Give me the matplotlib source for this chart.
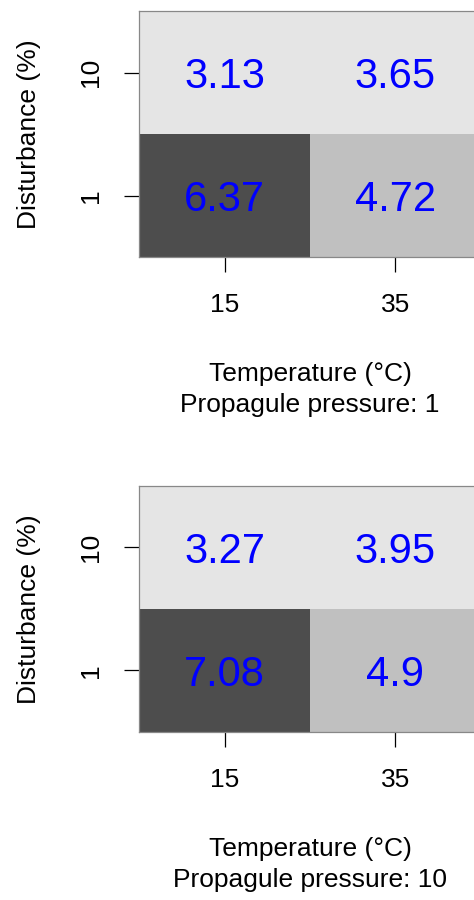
import numpy as np
import matplotlib
matplotlib.use("Agg")
import matplotlib.pyplot as plt
from matplotlib.colors import ListedColormap, BoundaryNorm

plt.rcParams['font.family'] = ['Liberation Sans', 'DejaVu Sans']

temperatures = ["15", "35"]
disturbances = ["1", "10"]
pressures = ["1", "10"]
# rows: disturbance 1, 10 ; columns: temperature 15, 35
values_pp1 = [[6.37, 4.72],
              [3.13, 3.65]]
values_pp10 = [[7.08, 4.9],
               [3.27, 3.95]]

cmap = ListedColormap(["#e5e5e5", "#c0c0c0", "#4d4d4d"])
norm = BoundaryNorm([0, 4, 6, 10], cmap.N)

fig = plt.figure(figsize=(4.74, 9), dpi=100)

panels = [(values_pp1, pressures[0], 0.7144), (values_pp10, pressures[1], 0.1867)]
for values, pp, bottom in panels:
    ax = fig.add_axes([139 / 474, bottom, 342 / 474, 246 / 900])
    data = np.array(values)
    ax.pcolormesh(np.arange(3), np.arange(3), data, cmap=cmap, norm=norm)
    for i in range(data.shape[0]):
        for j in range(data.shape[1]):
            ax.text(j + 0.5, i + 0.5, "{:g}".format(data[i, j]), color="#0000ff",
                    fontsize=30, ha="center", va="center_baseline")
    ax.set_xlim(0, 2)
    ax.set_ylim(0, 2)
    ax.set_xticks([0.5, 1.5])
    ax.set_xticklabels(temperatures)
    ax.set_yticks([0.5, 1.5])
    ax.set_yticklabels(disturbances, rotation=90, va="center")
    ax.tick_params(length=11, width=0.9, labelsize=19, pad=15)
    for s in ax.spines.values():
        s.set_color("#888888")
        s.set_linewidth(0.9)
    ax.set_xlabel("Temperature (°C)\nPropagule pressure: " + pp,
                  fontsize=19, labelpad=32, linespacing=1.4)
    ax.set_ylabel("Disturbance (%)", fontsize=19, labelpad=27)

fig.savefig("out.png", dpi=100)
